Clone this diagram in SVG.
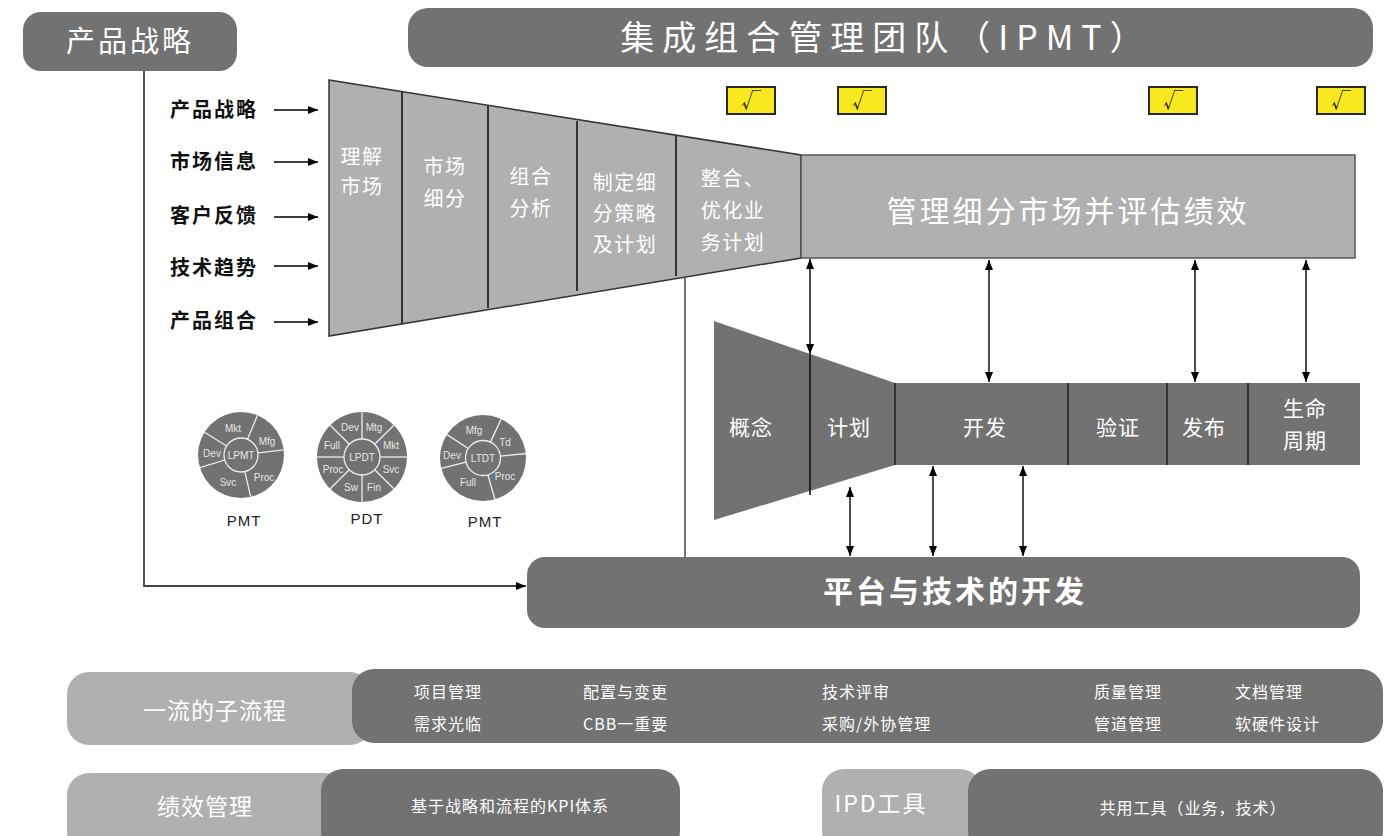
<svg xmlns="http://www.w3.org/2000/svg" width="1388" height="836" viewBox="0 0 1388 836">
<defs>
<marker id="ah" viewBox="0 0 10 8" refX="10" refY="4" markerWidth="10" markerHeight="8" markerUnits="userSpaceOnUse" orient="auto-start-reverse"><path d="M0,0 L10,4 L0,8 z" fill="#000"/></marker>
<style>
.cjk{font-family:"Noto Sans CJK SC","Liberation Sans",sans-serif}
.dark{fill:#727272}
.light{fill:#b0b0b0}
.wt{fill:#fff}
.lbl{font-family:"Noto Sans CJK SC","Liberation Sans",sans-serif;font-weight:bold;font-size:20px;fill:#111;letter-spacing:2px}
.fn{font-family:"Noto Sans CJK SC","Liberation Sans",sans-serif;font-size:20px;fill:#fff;text-anchor:middle;letter-spacing:1.5px}
.dv{stroke:#333;stroke-width:2}
.con{stroke:#000;stroke-width:1.4;fill:none}
.pl{stroke:#eee;stroke-width:1.3}
.pt{font-family:"Liberation Sans",sans-serif;font-size:10px;fill:#e6e6e6;text-anchor:middle;dominant-baseline:central}
.cap{font-family:"Liberation Sans",sans-serif;font-size:15px;fill:#222;text-anchor:middle;letter-spacing:1px}
.sm{font-family:"Noto Sans CJK SC","Liberation Sans",sans-serif;font-size:16px;fill:#fff;letter-spacing:1px}
.chk{fill:#f7e81f;stroke:#2a2a2a;stroke-width:2}
.ck{font-family:"Noto Sans CJK SC",sans-serif;font-size:20px;font-weight:300;fill:#222;text-anchor:middle}
</style>
</defs>

<g id="strategy">
<rect x="23" y="12" width="214" height="59" rx="18" class="dark"/>
<text x="130" y="52" class="cjk wt" font-size="29" text-anchor="middle" letter-spacing="3">产品战略</text>
</g>

<g id="ipmt">
<rect x="408" y="8" width="965" height="59" rx="20" class="dark"/>
<text x="886" y="50" class="cjk wt" font-size="34" text-anchor="middle" letter-spacing="8">集成组合管理团队（IPMT）</text>
</g>

<g id="inputs">
<text x="170" y="117" class="lbl">产品战略</text>
<text x="170" y="169" class="lbl">市场信息</text>
<text x="170" y="223" class="lbl">客户反馈</text>
<text x="170" y="275" class="lbl">技术趋势</text>
<text x="170" y="328" class="lbl">产品组合</text>
</g>

<g id="market-funnel">
<polygon points="329,80 801,155 801,258 329,336" fill="#b0b0b0" stroke="#333" stroke-width="1.5"/>
<line x1="402" y1="92" x2="402" y2="324" class="dv"/>
<line x1="488" y1="106" x2="488" y2="308" class="dv"/>
<line x1="577" y1="121" x2="577" y2="291" class="dv"/>
<line x1="676" y1="136" x2="676" y2="276" class="dv"/>
<text class="fn"><tspan x="362" y="164">理解</tspan><tspan x="362" y="194">市场</tspan></text>
<text class="fn"><tspan x="445" y="174">市场</tspan><tspan x="445" y="206">细分</tspan></text>
<text class="fn"><tspan x="531" y="184">组合</tspan><tspan x="531" y="216">分析</tspan></text>
<text class="fn"><tspan x="625" y="190">制定细</tspan><tspan x="625" y="221">分策略</tspan><tspan x="625" y="252">及计划</tspan></text>
<text class="fn"><tspan x="733" y="186">整合、</tspan><tspan x="733" y="218">优化业</tspan><tspan x="733" y="250">务计划</tspan></text>
</g>

<g id="manage-segment">
<rect x="801" y="155" width="554" height="103" fill="#b0b0b0" stroke="#555" stroke-width="1.5"/>
<text x="1068" y="222" class="cjk wt" font-size="30" text-anchor="middle" letter-spacing="3">管理细分市场并评估绩效</text>
</g>

<g id="checks">
<rect x="727" y="87" width="48" height="27" class="chk"/>
<text x="751" y="108" class="ck">√</text>
<rect x="838" y="87" width="48" height="27" class="chk"/>
<text x="862" y="108" class="ck">√</text>
<rect x="1149" y="87" width="48" height="27" class="chk"/>
<text x="1173" y="108" class="ck">√</text>
<rect x="1317" y="87" width="48" height="27" class="chk"/>
<text x="1341" y="108" class="ck">√</text>
</g>

<g id="ipd-flow">
<polygon points="714,321 895,383 895,465 714,520" class="dark"/>
<rect x="895" y="383" width="465" height="82" class="dark"/>
<line x1="895" y1="383" x2="895" y2="465" class="dv"/>
<line x1="1068" y1="383" x2="1068" y2="465" class="dv"/>
<line x1="1167" y1="383" x2="1167" y2="465" class="dv"/>
<line x1="1248" y1="383" x2="1248" y2="465" class="dv"/>
<text x="751" y="435" class="cjk wt" font-size="21" text-anchor="middle" letter-spacing="1">概念</text>
<text x="849" y="435" class="cjk wt" font-size="21" text-anchor="middle" letter-spacing="1">计划</text>
<text x="985" y="435" class="cjk wt" font-size="21" text-anchor="middle" letter-spacing="1">开发</text>
<text x="1118" y="435" class="cjk wt" font-size="21" text-anchor="middle" letter-spacing="1">验证</text>
<text x="1204" y="435" class="cjk wt" font-size="21" text-anchor="middle" letter-spacing="1">发布</text>
<text class="cjk wt" font-size="21" text-anchor="middle" letter-spacing="1"><tspan x="1305" y="416">生命</tspan><tspan x="1305" y="448">周期</tspan></text>
</g>

<g id="platform">
<rect x="527" y="557" width="833" height="71" rx="18" class="dark"/>
<text x="955" y="602" class="cjk wt" font-size="30" font-weight="bold" text-anchor="middle" letter-spacing="3">平台与技术的开发</text>
</g>

<g id="pie-lpmt">
<circle cx="241" cy="455" r="43" class="dark"/>
<line x1="247.5" y1="439.3" x2="257.5" y2="415.3" class="pl"/>
<line x1="257.9" y1="452.9" x2="283.7" y2="449.8" class="pl"/>
<line x1="244.8" y1="471.6" x2="250.7" y2="496.9" class="pl"/>
<line x1="224.7" y1="460" x2="199.9" y2="467.6" class="pl"/>
<line x1="226.6" y1="446" x2="204.5" y2="432.2" class="pl"/>
<circle cx="241" cy="455" r="17" fill="none" stroke="#eee" stroke-width="1.3"/>
<text x="241" y="455" class="pt">LPMT</text>
<text x="233" y="428" class="pt">Mkt</text>
<text x="267" y="441" class="pt">Mfg</text>
<text x="264" y="477" class="pt">Proc</text>
<text x="228" y="482" class="pt">Svc</text>
<text x="212" y="453" class="pt">Dev</text>
<text x="244" y="526" class="cap">PMT</text>
</g>

<g id="pie-lpdt">
<circle cx="362" cy="457" r="45" class="dark"/>
<line x1="380" y1="457" x2="407" y2="457" class="pl"/>
<line x1="374.7" y1="469.7" x2="393.8" y2="488.8" class="pl"/>
<line x1="362" y1="475" x2="362" y2="502" class="pl"/>
<line x1="349.3" y1="469.7" x2="330.2" y2="488.8" class="pl"/>
<line x1="344" y1="457" x2="317" y2="457" class="pl"/>
<line x1="349.3" y1="444.3" x2="330.2" y2="425.2" class="pl"/>
<line x1="362" y1="439" x2="362" y2="412" class="pl"/>
<line x1="374.7" y1="444.3" x2="393.8" y2="425.2" class="pl"/>
<circle cx="362" cy="457" r="18" fill="none" stroke="#eee" stroke-width="1.3"/>
<text x="362" y="457" class="pt">LPDT</text>
<text x="350" y="427" class="pt">Dev</text>
<text x="374" y="427" class="pt">Mtg</text>
<text x="391" y="445" class="pt">Mkt</text>
<text x="391" y="469" class="pt">Svc</text>
<text x="374" y="487" class="pt">Fin</text>
<text x="351" y="487" class="pt">Sw</text>
<text x="333" y="469" class="pt">Proc</text>
<text x="332" y="445" class="pt">Full</text>
<text x="367" y="524" class="cap">PDT</text>
</g>

<g id="pie-ltdt">
<circle cx="483" cy="458" r="43" class="dark"/>
<line x1="490.4" y1="442.1" x2="501.2" y2="419" class="pl"/>
<line x1="500.4" y1="456.2" x2="525.8" y2="453.5" class="pl"/>
<line x1="487.8" y1="474.8" x2="494.9" y2="499.3" class="pl"/>
<line x1="466" y1="462.2" x2="441.3" y2="468.4" class="pl"/>
<line x1="468.3" y1="448.5" x2="446.9" y2="434.6" class="pl"/>
<circle cx="483" cy="458" r="17.5" fill="none" stroke="#eee" stroke-width="1.3"/>
<text x="483" y="458" class="pt">LTDT</text>
<text x="474" y="430" class="pt">Mfg</text>
<text x="505" y="442" class="pt">Td</text>
<text x="505" y="476" class="pt">Proc</text>
<text x="468" y="482" class="pt">Full</text>
<text x="452" y="455" class="pt">Dev</text>
<text x="485" y="527" class="cap">PMT</text>
</g>

<g id="connectors">
<line x1="274" y1="110" x2="318" y2="110" class="con" marker-end="url(#ah)"/>
<line x1="274" y1="162" x2="318" y2="162" class="con" marker-end="url(#ah)"/>
<line x1="274" y1="217" x2="318" y2="217" class="con" marker-end="url(#ah)"/>
<line x1="274" y1="266" x2="318" y2="266" class="con" marker-end="url(#ah)"/>
<line x1="274" y1="322" x2="318" y2="322" class="con" marker-end="url(#ah)"/>
<polyline points="144,71 144,586 526,586" fill="none" stroke="#444" stroke-width="1.8" marker-end="url(#ah)"/>
<line x1="685" y1="277" x2="685" y2="557" stroke="#444" stroke-width="1.5"/>
<line x1="810" y1="259" x2="810" y2="354" class="con" marker-start="url(#ah)" marker-end="url(#ah)"/>
<line x1="810" y1="354" x2="810" y2="495" stroke="#111" stroke-width="1.6"/>
<line x1="989" y1="260" x2="989" y2="382" class="con" marker-start="url(#ah)" marker-end="url(#ah)"/>
<line x1="1195" y1="260" x2="1195" y2="382" class="con" marker-start="url(#ah)" marker-end="url(#ah)"/>
<line x1="1306" y1="260" x2="1306" y2="382" class="con" marker-start="url(#ah)" marker-end="url(#ah)"/>
<line x1="850" y1="487" x2="850" y2="556" class="con" marker-start="url(#ah)" marker-end="url(#ah)"/>
<line x1="933" y1="466" x2="933" y2="556" class="con" marker-start="url(#ah)" marker-end="url(#ah)"/>
<line x1="1023" y1="466" x2="1023" y2="556" class="con" marker-start="url(#ah)" marker-end="url(#ah)"/>
</g>

<g id="subprocess">
<rect x="67" y="672" width="305" height="73" rx="22" class="light"/>
<text x="215" y="719" class="cjk wt" font-size="23" text-anchor="middle" letter-spacing="1">一流的子流程</text>
<rect x="352" y="669" width="1031" height="74" rx="22" class="dark"/>
<text x="414" y="698" class="sm">项目管理</text>
<text x="414" y="730" class="sm">需求光临</text>
<text x="583" y="698" class="sm">配置与变更</text>
<text x="583" y="730" class="sm">CBB一重要</text>
<text x="822" y="698" class="sm">技术评审</text>
<text x="822" y="730" class="sm">采购/外协管理</text>
<text x="1094" y="698" class="sm">质量管理</text>
<text x="1094" y="730" class="sm">管道管理</text>
<text x="1235" y="698" class="sm">文档管理</text>
<text x="1235" y="730" class="sm">软硬件设计</text>
</g>

<g id="performance">
<rect x="67" y="773" width="280" height="80" rx="22" class="light"/>
<text x="205" y="815" class="cjk wt" font-size="23" text-anchor="middle" letter-spacing="1">绩效管理</text>
<rect x="321" y="769" width="359" height="84" rx="22" class="dark"/>
<text x="510" y="812" class="sm" text-anchor="middle" letter-spacing="0">基于战略和流程的KPI体系</text>
</g>

<g id="ipd-tools">
<rect x="822" y="769" width="160" height="84" rx="22" class="light"/>
<text x="881" y="812" class="cjk wt" font-size="23" text-anchor="middle" letter-spacing="2">IPD工具</text>
<rect x="968" y="769" width="415" height="84" rx="22" class="dark"/>
<text x="1193" y="814" class="sm" text-anchor="middle" letter-spacing="0">共用工具（业务，技术）</text>
</g>
</svg>
